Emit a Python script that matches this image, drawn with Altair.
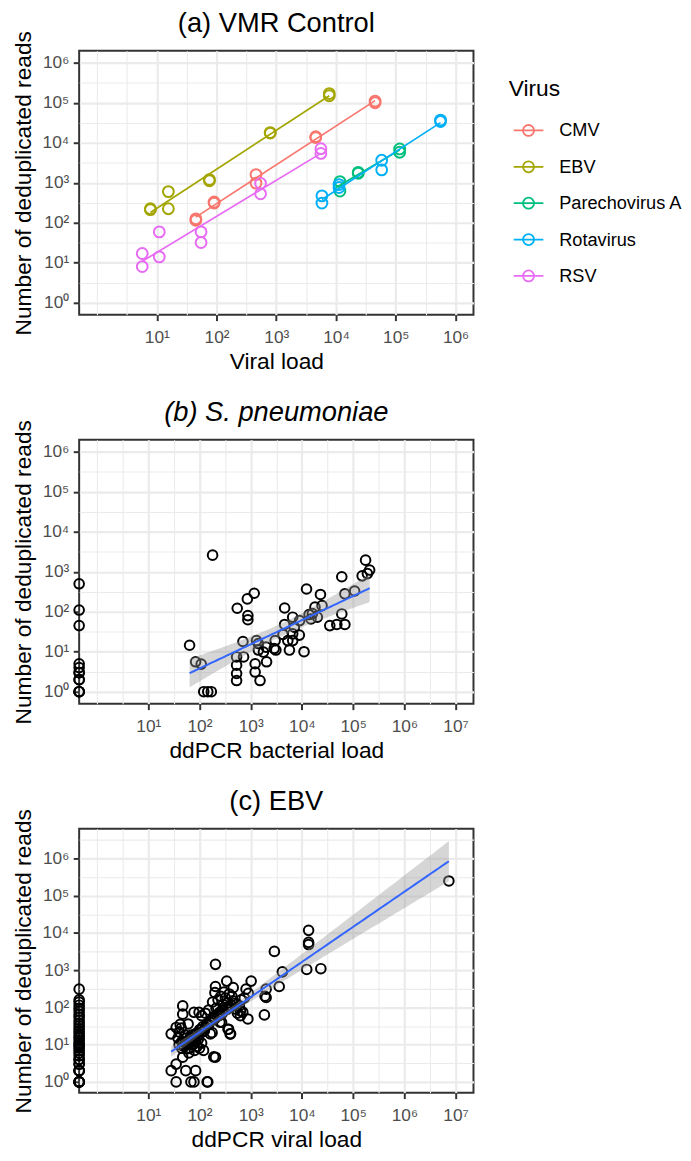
import numpy as np
import pandas as pd
import altair as alt

# ---------------- data: (a) VMR Control ----------------
virus_names = ["CMV", "EBV", "Parechovirus A", "Rotavirus", "RSV"]
virus_colors = ["#F8766D", "#A3A500", "#00BF7D", "#00B0F6", "#E76BF3"]

a_virus = (["CMV"] * 10 + ["EBV"] * 10 + ["Parechovirus A"] * 6
           + ["Rotavirus"] * 8 + ["RSV"] * 10)
a_load = [45, 45, 91, 91, 457, 457, 4570, 4570, 45000, 45000,
          7.8, 7.8, 15.6, 15.6, 76, 76, 790, 790, 7700, 7700,
          11600, 11600, 23500, 23500, 116000, 116000,
          5800, 5800, 11200, 11200, 58000, 58000, 560000, 560000,
          5.7, 5.7, 11, 11, 55, 55, 545, 545, 5570, 5570]
a_reads = [115, 125, 310, 330, 1600, 980, 13500, 14200, 100000, 110000,
           224, 212, 224, 600, 1200, 1120, 18000, 17500, 150000, 170000,
           1070, 620, 1730, 1820, 7000, 5800,
           470, 310, 760, 900, 3650, 2100, 37000, 34000,
           17, 8, 59, 14, 59, 32, 970, 530, 7100, 5400]

# ---------------- data: (b) S. pneumoniae ----------------
b_zero_reads = [1, 1, 1, 2, 2, 3, 3, 4, 5, 45, 110, 500]
b_load = [64, 84, 108, 121, 145, 170, 180,
          545, 860, 1170, 880, 880, 705, 530, 530, 530, 530, 725,
          1410, 1410, 1220, 1220, 1520, 2040, 1770, 2870, 3100, 3000, 1300, 2000,
          4600, 4600, 4270, 5300, 6600, 6600, 6600, 5700, 7100, 8900,
          11000, 12300, 13800, 15000, 20000, 23000, 24700, 9000, 16000, 18000,
          35000, 48000, 69000, 60000, 60000, 69000, 107000, 150000, 175000, 210000, 190000]
b_reads = [14.5, 5.6, 4.9, 1, 1, 1, 2600,
           122, 209, 290, 80, 63, 18, 7.4, 4.6, 2.85, 1.9, 7.4,
           16, 11, 5, 3.1, 1.9, 5.6, 9.8, 12, 11, 19, 19, 13,
           124, 48, 27, 19, 73, 28, 19, 11, 41, 26,
           10, 370, 85, 66, 73, 270, 142, 60, 90, 130,
           45, 48, 48, 750, 88, 280, 330, 790, 1950, 1100, 900]

# ---------------- data: (c) EBV ----------------
c_zero_reads = [1, 1, 1, 1, 1, 2, 2, 2, 3, 3, 4, 4, 5, 6, 7, 8, 9, 10, 11, 13, 15, 17,
                20, 23, 27, 32, 38, 45, 55, 65, 80, 95, 115, 140, 160, 310]
c_load = [7.4e6, 13500, 13500, 13500, 12400, 23400, 2900, 4150, 3600, 1850, 2000, 1900, 2000,
          1020, 810, 880, 630, 630, 550, 340, 455, 205, 205, 395, 370, 250, 163, 98, 78,
          47, 47, 28, 35, 205, 28, 35, 54, 84, 68, 78, 145, 35, 47, 59,
          200, 230, 260, 290, 320, 350, 400, 450, 520, 600, 700, 210, 180, 250, 300, 380,
          430, 150, 130, 110,
          45, 50, 55, 60, 65, 70, 75, 80, 85, 90, 100, 110, 120, 95, 62, 52, 40, 38,
          176, 405, 360, 270, 190, 141, 60, 42, 44,
          66, 72, 78, 88, 92, 105, 115, 125, 140, 160, 185, 220, 240, 280, 330, 48, 58,
          40, 45, 55, 65, 70, 85, 100, 115, 130, 150, 170, 200, 240, 280, 350, 420, 500,
          650, 750, 900]
c_reads = [250000, 11800, 5600, 4900, 1050, 1100, 3200, 900, 365, 63, 185, 200, 310,
           510, 310, 49, 60, 81, 70, 510, 340, 1440, 365, 19.5, 26, 40, 19.5, 74, 74,
           110, 66, 19.5, 29, 4.6, 2, 1, 2, 2, 1, 1, 1, 3, 4.6, 7.8,
           250, 160, 200, 120, 180, 130, 100, 150, 90, 110, 75, 95, 140, 75, 260, 230,
           200, 85, 70, 60,
           12, 9, 15, 11, 8, 13, 10, 7, 12, 9, 8, 11, 7, 14, 6, 18, 22, 15,
           21, 19.5, 26, 40, 4.7, 1, 36, 35, 28,
           16, 12, 14, 20, 17, 25, 30, 24, 33, 40, 55, 60, 70, 85, 95, 12, 10,
           10, 8, 12, 14, 18, 20, 25, 22, 30, 35, 45, 50, 60, 70, 90, 110, 130,
           160, 180, 240]

FONT = "Liberation Sans"
XMIN_A = 10 ** -0.3
XMIN_BC = 10 ** -0.35


def loglog_fit(x, y, n=80):
    lx = np.log10(np.asarray(x, float))
    ly = np.log10(np.asarray(y, float))
    nn = len(lx)
    b, a = np.polyfit(lx, ly, 1)
    gx = np.linspace(lx.min(), lx.max(), n)
    fit = a + b * gx
    resid = ly - (a + b * lx)
    s = np.sqrt(np.sum(resid ** 2) / (nn - 2))
    sxx = np.sum((lx - lx.mean()) ** 2)
    se = s * np.sqrt(1 / nn + (gx - lx.mean()) ** 2 / sxx)
    df = nn - 2
    t = 1.959964 + 2.37227 / df + 2.82217 / df ** 2
    return pd.DataFrame({"xp": 10 ** gx, "fit": 10 ** fit,
                         "lo": 10 ** (fit - t * se), "hi": 10 ** (fit + t * se)})


SUP = "['\u2070','\u00b9','\u00b2','\u00b3','\u2074','\u2075','\u2076','\u2077']"


def log_axis(title, lab_lo, lab_hi, grid_lo, grid_hi):
    vals = [10 ** (k / 2) for k in range(int(round(grid_lo * 2)), int(round(grid_hi * 2)) + 1)]
    L = "(log(datum.value)/LN10)"
    major = f"abs({L} - round({L})) < 0.01 && round({L}) >= {lab_lo} && round({L}) <= {lab_hi}"
    return alt.Axis(
        title=title, values=vals,
        labelExpr=f"({major}) ? '10' + {SUP}[round({L})] : ''",
        gridWidth={"condition": {"test": major, "value": 2.2}, "value": 1.1},
        tickOpacity={"condition": {"test": major, "value": 1}, "value": 0},
        labelOverlap=False, labelFlush=False, domain=False,
    )


def lscale(lo, hi):
    return alt.Scale(type="log", domain=[lo, hi], nice=False, zero=False)


W, H = 399, 267

# ---------------- panel a ----------------
df_a = pd.DataFrame({"virus": a_virus, "xp": a_load, "reads": a_reads})
fits = []
for v in virus_names:
    sub = df_a[df_a.virus == v]
    f = loglog_fit(sub.xp, sub.reads, n=2)
    fits.append(pd.DataFrame({"virus": v, "xp": f.xp, "reads": f.fit}))
fit_a = pd.concat(fits, ignore_index=True)

xa = alt.X("xp:Q", scale=lscale(XMIN_A, 10 ** 6.3), axis=log_axis("Viral load", 1, 6, 0, 6))
ya = alt.Y("reads:Q", scale=lscale(10 ** -0.3, 10 ** 6.3),
           axis=log_axis("Number of deduplicated reads", 0, 6, 0, 6))
PATH = "M-1,0L1,0M0.37,0A0.37,0.37,0,1,1,-0.37,0A0.37,0.37,0,1,1,0.37,0"
col = alt.Color("virus:N", scale=alt.Scale(domain=virus_names, range=virus_colors),
                legend=alt.Legend(title="Virus", orient="none", legendX=434.7, legendY=27.6,
                                  symbolType=PATH, symbolSize=900, symbolStrokeWidth=1.8,
                                  symbolFillColor="transparent", symbolOffset=4,
                                  labelOffset=15, labelFontSize=18.4, titleFontSize=23,
                                  titleFontWeight="normal", labelColor="black",
                                  titleColor="black", titlePadding=14, rowPadding=10.8,
                                  padding=0, labelFont=FONT, titleFont=FONT))

pts_a = alt.Chart(df_a).mark_point(filled=False, size=120, strokeWidth=2, opacity=1).encode(
    x=xa, y=ya, color=col)
line_a = alt.Chart(fit_a).mark_line(strokeWidth=1.7).encode(x=xa, y=ya, color=col)
chart_a = alt.layer(pts_a, line_a).properties(
    width=W, height=H, title=alt.TitleParams("(a) VMR Control"))


# ---------------- panels b, c ----------------
def scatter_panel(zero_reads, load, reads, title, xtitle, ydom, italic=False):
    pts = pd.DataFrame({"load": [0] * len(zero_reads) + list(load),
                        "reads": list(zero_reads) + list(reads)})
    band = loglog_fit(load, reads)
    xe = alt.X("xp:Q", scale=lscale(XMIN_BC, 10 ** 7.35), axis=log_axis(xtitle, 1, 7, 0, 7))
    yax = log_axis("Number of deduplicated reads", 0, 6, 0, 6.5)
    ye_pts = alt.Y("reads:Q", scale=lscale(*ydom), axis=yax)
    ye_lo = alt.Y("lo:Q", scale=lscale(*ydom), axis=yax)
    ye_fit = alt.Y("fit:Q", scale=lscale(*ydom), axis=yax)
    p = alt.Chart(pts).transform_calculate(
        xp=f"max(datum.load, {XMIN_BC})").mark_point(
        filled=False, size=95, strokeWidth=2, color="black", opacity=1).encode(x=xe, y=ye_pts)
    a = alt.Chart(band).mark_area(color="#999999", opacity=0.4).encode(x=xe, y=ye_lo, y2="hi:Q")
    l = alt.Chart(band).mark_line(color="#3366FF", strokeWidth=2).encode(x=xe, y=ye_fit)
    tp = alt.TitleParams(title, fontStyle="italic") if italic else alt.TitleParams(title)
    return alt.layer(p, a, l).properties(width=W, height=H, title=tp), band


chart_b, band_b = scatter_panel(b_zero_reads, b_load, b_reads, "(b) S. pneumoniae",
                                "ddPCR bacterial load", (10 ** -0.3, 10 ** 6.3), italic=True)
chart_c, band_c = scatter_panel(c_zero_reads, c_load, c_reads, "(c) EBV",
                                "ddPCR viral load", (10 ** -0.29, 10 ** 6.8))

chart = alt.vconcat(chart_a, chart_b, chart_c, spacing=126.6, bounds="flush").properties(
    padding={"left": 3, "top": -5.5, "right": 0, "bottom": 0}
).configure(font=FONT).configure_view(
    stroke="#333333", strokeWidth=2
).configure_axis(
    gridColor="#EBEBEB", tickColor="#333333", tickWidth=2, tickSize=6,
    labelFontSize=17.5, labelColor="#4D4D4D", labelFont=FONT,
    titleFontSize=23, titleFontWeight="normal", titleColor="black", titleFont=FONT,
).configure_axisY(labelPadding=4.5, titlePadding=7).configure_axisX(
    labelPadding=8.5, titlePadding=4.5
).configure_title(
    fontSize=27.6, fontWeight="normal", anchor="middle", frame="group", offset=-7.3,
    color="black", font=FONT
)

chart.save("out.html", embed_options={"renderer": "svg", "actions": False})
